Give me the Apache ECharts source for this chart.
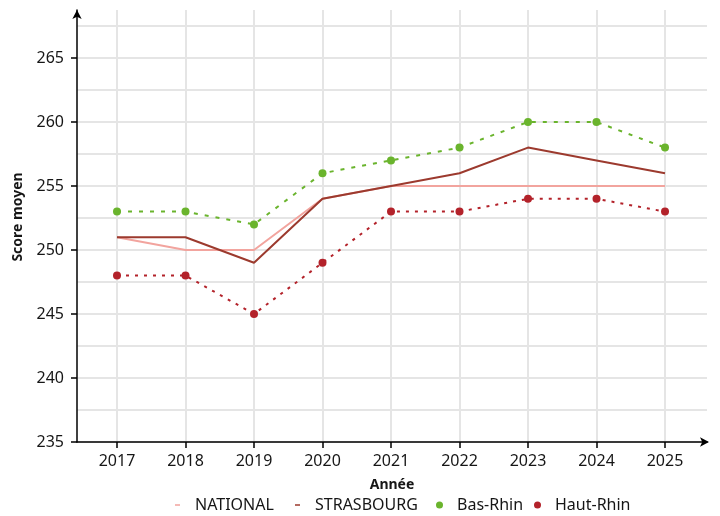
<!DOCTYPE html>
<html>
<head>
<meta charset="utf-8">
<script src="https://cdn.jsdelivr.net/npm/echarts@6/dist/echarts.min.js"></script>
<style>html,body{margin:0;padding:0;background:#fff}#c{width:720px;height:516px}</style>
</head>
<body>
<div id="c"></div>
<script>
const years = [2017, 2018, 2019, 2020, 2021, 2022, 2023, 2024, 2025];
const national = [251, 250, 250, 254, 255, 255, 255, 255, 255];
const strasbourg = [251, 251, 249, 254, 255, 256, 258, 257, 256];
const basRhin = [253, 253, 252, 256, 257, 258, 260, 260, 258];
const hautRhin = [248, 248, 245, 249, 253, 253, 254, 254, 253];
const yTicks = [235, 240, 245, 250, 255, 260, 265];
const yGrid = [235, 237.5, 240, 242.5, 245, 247.5, 250, 252.5, 255, 257.5, 260, 262.5, 265, 267.5];
const seriesNames = ['NATIONAL', 'STRASBOURG', 'Bas-Rhin', 'Haut-Rhin'];

const FONT = 'Noto Sans';
const pairs = arr => years.map((y, i) => [y, arr[i]]);
const dashIcon = 'path://M0,0h0.01v0.01h-0.01zM1,2.8h5v1.5h-5zM7,7h-0.01v-0.01h0.01z';
const legendIcons = [dashIcon, dashIcon, 'circle', 'circle'];
const legendLeft = [174, 294, 436, 534];

const chart = echarts.init(document.getElementById('c'), null, {renderer: 'canvas'});
chart.setOption({
  animation: false,
  textStyle: {fontFamily: FONT},
  grid: {left: 77, right: 13, top: 10, bottom: 74},
  legend: seriesNames.map((n, i) => ({
    top: 497, left: legendLeft[i], itemWidth: 25, itemHeight: 7, padding: 0,
    textStyle: {fontFamily: FONT, fontSize: 16, color: '#161616'},
    data: [{name: n, icon: legendIcons[i], itemStyle: {borderWidth: 0}}]
  })),
  xAxis: {
    type: 'value', min: 2016.416, max: 2025.613,
    name: 'Année', nameLocation: 'middle', nameGap: 36,
    nameTextStyle: {fontFamily: FONT, fontSize: 14, fontWeight: 'bold', color: '#161616'},
    axisLine: {show: true, symbol: ['none', 'arrow'], symbolSize: [7, 9], symbolOffset: [0, 2], lineStyle: {color: '#000', width: 1.5}},
    axisTick: {show: true, length: 6, customValues: years, lineStyle: {color: '#000', width: 1.5}},
    axisLabel: {customValues: years, fontSize: 16, color: '#161616', margin: 11, formatter: v => String(v)},
    splitLine: {show: true, lineStyle: {color: '#e5e5e5', width: 2}}
  },
  yAxis: [
    {
      type: 'value', min: 235, max: 268.75,
      name: 'Score moyen', nameLocation: 'middle', nameGap: 52,
      nameTextStyle: {fontFamily: FONT, fontSize: 14, fontWeight: 'bold', color: '#161616', padding: [0, 0, 0, 18]},
      axisLine: {show: true, symbol: ['none', 'arrow'], symbolSize: [7, 9], lineStyle: {color: '#000', width: 1.5}},
      axisTick: {show: true, length: 6, customValues: yTicks, lineStyle: {color: '#000', width: 1.5}},
      axisLabel: {customValues: yTicks, fontSize: 16, color: '#161616', margin: 13},
      splitLine: {show: false}
    },
    {
      type: 'value', min: 235, max: 268.75, position: 'left',
      axisLine: {show: false}, axisLabel: {show: false},
      axisTick: {show: false, customValues: yGrid},
      splitLine: {show: true, lineStyle: {color: '#e5e5e5', width: 2}}
    }
  ],
  series: [
    {
      name: 'NATIONAL', type: 'line', data: pairs(national), showSymbol: false, symbol: 'none',
      color: '#f2a49e', lineStyle: {color: '#f2a49e', width: 2}, z: 2
    },
    {
      name: 'STRASBOURG', type: 'line', data: pairs(strasbourg), showSymbol: false, symbol: 'none',
      color: '#9c3a2e', lineStyle: {color: '#9c3a2e', width: 2}, z: 3
    },
    {
      name: 'Bas-Rhin', type: 'line', data: pairs(basRhin), symbol: 'circle', symbolSize: 8,
      color: '#6ab42d', itemStyle: {color: '#6ab42d', borderWidth: 0},
      lineStyle: {color: '#6ab42d', width: 2, type: [4, 7]}, z: 4
    },
    {
      name: 'Haut-Rhin', type: 'line', data: pairs(hautRhin), symbol: 'circle', symbolSize: 8,
      color: '#b3222a', itemStyle: {color: '#b3222a', borderWidth: 0},
      lineStyle: {color: '#b3222a', width: 2, type: [3, 6]}, z: 4
    }
  ]
});
</script>
</body>
</html>
